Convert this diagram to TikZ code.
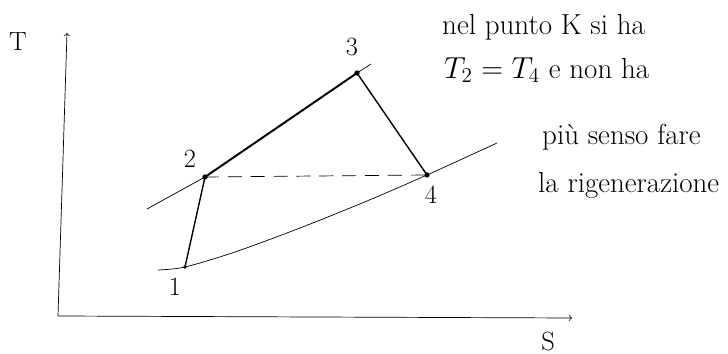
\documentclass[tikz,border=0pt]{standalone}
\begin{document}
\begin{tikzpicture}[>=to, x=0.02cm, y=-0.02cm,
  txt/.style={font=\fontsize{16.5}{20}\selectfont},
  lbl/.style={font=\fontsize{15}{18}\selectfont},
  pt/.style={circle, fill, inner sep=0pt, minimum size=3pt}]
\useasboundingbox (0,0) rectangle (728,354);
% axes
\coordinate (o) at (58,316);
\coordinate (ytop) at (67,33);
\coordinate (xend) at (572,318);
\draw[->] (o)--(ytop);
\draw[->] (o)--(xend);
\node[lbl] (tl) at (18,42) {T};
\node[lbl] (sl) at (548,342) {S};
% cycle points
\node[pt, minimum size=2pt] (p1) at (185,267) {};
\node[pt] (p2) at (205,177) {};
\node[pt] (p3) at (357,73) {};
\node[pt] (p4) at (427,175) {};
\node[lbl] (n1) at (175,287) {1};
\node[lbl] (n2) at (190,159) {2};
\node[lbl] (n3) at (352,47) {3};
\node[lbl] (n4) at (431,195) {4};
% isobars
\coordinate (a1) at (147,209);
\coordinate (a2) at (371,64);
\coordinate (b1) at (158,270);
\coordinate (b2) at (497,143);
\draw (a1)--(p2.center);
\draw (p3.center)--(a2);
\draw plot[smooth] coordinates {(b1) (p1.center) (235,252) (300,228) (367,201) (p4.center) (b2)};
% transformations
\draw[thick] (p1.center)--(p2.center);
\draw[line width=1.1pt] (p2.center)--(p3.center);
\draw[thick] (p3.center)--(p4.center);
\draw[dashed, dash pattern=on 8pt off 5pt] (p2.center)--(p4.center);
% note
\node[txt, anchor=west] (r1) at (436,27) {nel punto K si ha};
\node[txt, anchor=west] (r2) at (438,70) {$T_2 = T_4$ e non ha};
\node[txt, anchor=west] (r3) at (536,137) {più senso fare};
\node[txt, anchor=west] (r4) at (532,185) {la rigenerazione};
\end{tikzpicture}
\end{document}
